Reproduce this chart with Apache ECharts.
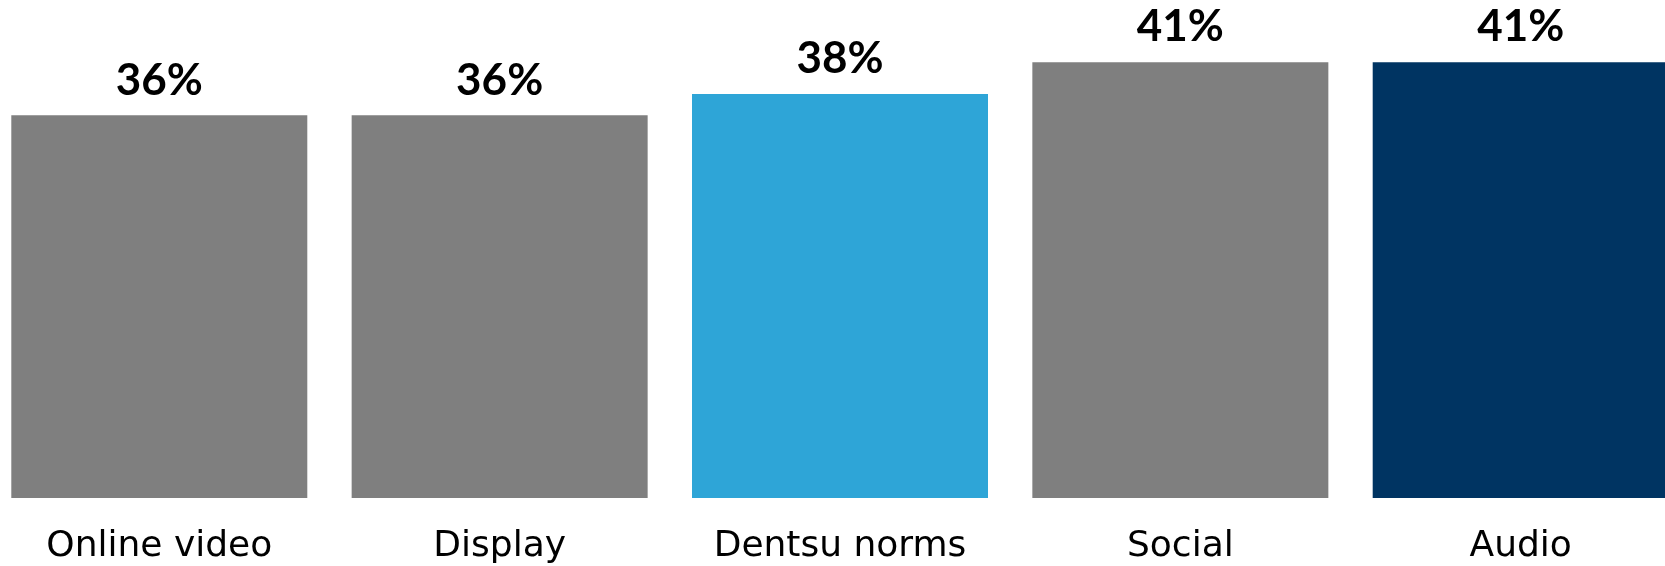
<!DOCTYPE html>
<html>
<head>
<meta charset="utf-8">
<script src="https://cdn.jsdelivr.net/npm/echarts@6/dist/echarts.min.js"></script>
<style>
html,body{margin:0;padding:0;background:#fff;}
#c{width:1665px;height:566px;}
</style>
</head>
<body>
<div id="c"></div>
<script>
const categories = ["Online video", "Display", "Dentsu norms", "Social", "Audio"];
const values = [36, 36, 38, 41, 41];
const colors = ["#7F7F7F", "#7F7F7F", "#2EA5D7", "#7F7F7F", "#003462"];

const chart = echarts.init(document.getElementById('c'));
chart.setOption({
  animation: false,
  grid: { left: 159.3, width: 1361.4, top: 0, height: 498, containLabel: false, outerBoundsMode: 'none' },
  xAxis: {
    type: 'category',
    data: categories,
    boundaryGap: false,
    axisLine: { show: false },
    axisTick: { show: false },
    axisLabel: {
      margin: 31,
      fontFamily: 'DejaVu Sans',
      fontSize: 36,
      color: '#000',
      interval: 0
    }
  },
  yAxis: {
    type: 'value',
    min: 0,
    max: 46.85,
    show: false,
    splitLine: { show: false }
  },
  series: [{
    type: 'bar',
    barWidth: 296,
    clip: false,
    data: values.map((v, i) => ({ value: v, itemStyle: { color: colors[i] } })),
    label: {
      show: true,
      position: 'top',
      distance: 13,
      formatter: p => p.value + '%',
      fontFamily: 'Lato',
      fontWeight: 'bold',
      fontSize: 44,
      color: '#000'
    }
  }]
});
</script>
</body>
</html>
